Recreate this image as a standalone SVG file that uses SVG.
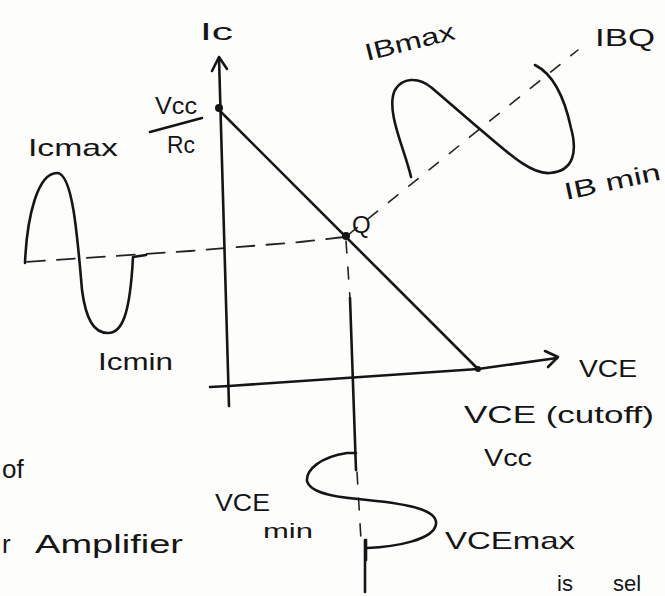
<svg xmlns="http://www.w3.org/2000/svg" width="665" height="596" viewBox="0 0 665 596">
<defs>
<style>
.ln{fill:none;stroke:#151515;stroke-width:2.6;stroke-linecap:round;stroke-linejoin:round}
.dash{fill:none;stroke:#222;stroke-width:1.8;stroke-dasharray:18 12;stroke-linecap:round}
.dash2{fill:none;stroke:#222;stroke-width:1.6;stroke-dasharray:12 14;stroke-linecap:round}
.t{font-family:"Liberation Sans",Arial,sans-serif;font-size:24px;fill:#151515}
.dot{fill:#151515}
</style>
</defs>
<rect width="665" height="596" fill="#fdfdfc"/>
<g id="connectors">
<path class="dash" d="M344,237 L300,242 L190,251 L25,262"/>
<path class="dash2" d="M348,235 L578,50"/>
<path class="dash2" d="M346,241 L350,298"/>
<path class="ln" d="M350,298 L356,470"/>
<path class="dash2" d="M357,472 L361,540"/>
<path class="ln" d="M365,540 L365,592"/>
<path class="ln" d="M219,110 L478,369"/>
</g>
<g id="ic-axis">
<path class="ln" d="M219,58 L229,406"/>
<path class="ln" d="M212,71 L219,57 L227,69"/>
<circle class="dot" cx="219" cy="108" r="4"/>
<text class="t" x="200" y="40" textLength="33" lengthAdjust="spacingAndGlyphs">Ic</text>
</g>
<g id="vce-axis">
<path class="ln" d="M210,387 L229,386 L478,369 L557,358"/>
<path class="ln" d="M545,351 L558,357 L548,367"/>
<circle class="dot" cx="478" cy="369" r="3"/>
<text class="t" x="579" y="377" textLength="58" lengthAdjust="spacingAndGlyphs">VCE</text>
<text class="t" x="464" y="423" textLength="190" lengthAdjust="spacingAndGlyphs">VCE (cutoff)</text>
<text class="t" x="484" y="466" textLength="48" lengthAdjust="spacingAndGlyphs">Vcc</text>
</g>
<g id="vcc-rc">
<text class="t" x="155" y="114" textLength="42" lengthAdjust="spacingAndGlyphs">Vcc</text>
<path class="ln" d="M150,132 L202,118"/>
<text class="t" x="167" y="153" textLength="28" lengthAdjust="spacingAndGlyphs">Rc</text>
</g>
<g id="q-point">
<circle class="dot" cx="346" cy="236" r="4"/>
<text class="t" x="352" y="233">Q</text>
</g>
<g id="ic-wave">
<path class="ln" d="M25,263 C27,215 38,173 57,173 C72,173 77,230 82,290 C86,320 94,333 108,333 C122,333 130,315 133,257 L146,255"/>
<text class="t" x="28" y="156" textLength="90" lengthAdjust="spacingAndGlyphs">Icmax</text>
<text class="t" x="98" y="370" textLength="75" lengthAdjust="spacingAndGlyphs">Icmin</text>
</g>
<g id="ib-wave">
<path class="ln" d="M411,177 C405,150 385,110 395,90 C402,78 418,76 432,88 L475,125 C505,150 530,175 550,173 C575,171 577,150 571,128 C565,100 555,75 535,65"/>
<text class="t" x="367" y="61" textLength="92" lengthAdjust="spacingAndGlyphs" transform="rotate(-14 367 61)">IBmax</text>
<text class="t" x="595" y="46" textLength="60" lengthAdjust="spacingAndGlyphs">IBQ</text>
<text class="t" x="566" y="200" textLength="98" lengthAdjust="spacingAndGlyphs" transform="rotate(-12 566 200)">IB min</text>
</g>
<g id="vce-wave">
<path class="ln" d="M356,453 L347,453 C320,457 306,470 307,481 C310,493 335,497 358,499 C400,503 438,508 436,524 C434,540 395,547 367,548"/>
<path class="ln" d="M366,540 L366,560"/>
<text class="t" x="215" y="511" textLength="55" lengthAdjust="spacingAndGlyphs">VCE</text>
<text class="t" x="263" y="538" textLength="50" lengthAdjust="spacingAndGlyphs" style="font-size:20px">min</text>
<text class="t" x="445" y="549" textLength="130" lengthAdjust="spacingAndGlyphs">VCEmax</text>
</g>
<g id="page-text">
<text class="t" x="2" y="478" style="font-size:26px">of</text>
<text class="t" x="2" y="553" style="font-size:26px">r</text>
<text class="t" x="35" y="553" textLength="148" lengthAdjust="spacingAndGlyphs" style="font-size:26px">Amplifier</text>
<text class="t" x="557" y="591" style="font-size:22px">is</text>
<text class="t" x="613" y="591" style="font-size:22px">sel</text>
</g>
</svg>
